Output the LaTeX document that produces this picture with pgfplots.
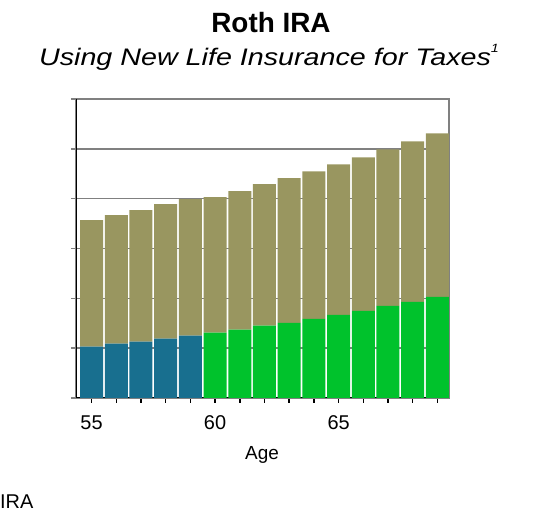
\documentclass[border=0pt]{standalone}
\usepackage{pgfplots}
\pgfplotsset{compat=1.18}
\usepackage{pgfplotstable}
\usepackage{graphicx}
\usepackage{fontspec}
\setmainfont{Liberation Sans}
\definecolor{rothblue}{RGB}{24,111,143}
\definecolor{rothgreen}{RGB}{0,194,44}
\definecolor{rotholive}{RGB}{153,150,96}
\pgfplotstableread{
age blue green olive
55 1.03 0    2.54
56 1.09 0    2.58
57 1.13 0    2.64
58 1.19 0    2.70
59 1.25 0    2.74
60 0    1.31 2.72
61 0    1.37 2.78
62 0    1.45 2.84
63 0    1.51 2.90
64 0    1.59 2.96
65 0    1.67 3.02
66 0    1.75 3.08
67 0    1.85 3.14
68 0    1.93 3.22
69 0    2.03 3.28
}\rothdata
\begin{document}
\begin{tikzpicture}
\useasboundingbox (0,0) rectangle (542bp,516bp);
\node[anchor=base, font=\bfseries\fontsize{28}{32}\selectfont] at (271bp,483bp) {Roth IRA};
\node[anchor=base, font=\itshape\fontsize{24}{28}\selectfont] at (269bp,450bp) {\scalebox{1.2}[1]{Using New Life Insurance for Taxes\raisebox{0.55em}{\fontsize{12}{12}\selectfont 1}}};
\node[anchor=base, font=\fontsize{19}{23}\selectfont] at (262bp,56bp) {Age};
\node[anchor=base west, inner sep=0pt, font=\fontsize{20}{23}\selectfont] at (0bp,8bp) {IRA};
\begin{axis}[
  at={(76bp,118bp)}, anchor=south west,
  scale only axis, width=373bp, height=299bp,
  ybar stacked, bar width=23bp,
  xmin=54.37, xmax=69.47, ymin=0, ymax=6,
  xtick={55,60,65}, xticklabels={55,60,65},
  minor xtick={56,57,58,59,61,62,63,64,66,67,68,69},
  ytick={0,1,2,3,4,5,6}, yticklabels={},
  xtick pos=lower, ytick pos=left,
  tick align=outside,
  major tick length=5bp, minor tick length=5bp,
  x tick style={black, line width=1.5bp},
  minor x tick style={black, line width=1.5bp},
  y tick style={gray, line width=1.6bp},
  ymajorgrids, major grid style={gray, line width=1.6bp},
  axis line style={gray, line width=1.6bp},
  xticklabel style={font=\fontsize{20}{23}\selectfont, anchor=base, yshift=-27bp},
  /pgf/number format/assume math mode=true,
]
\addplot[fill=rothblue, draw=none] table[x=age, y=blue] {\rothdata};
\addplot[fill=rothgreen, draw=none] table[x=age, y=green] {\rothdata};
\addplot[fill=rotholive, draw=none] table[x=age, y=olive] {\rothdata};
\draw[black, line width=2.2bp] (rel axis cs:0,1) -- (rel axis cs:0,0) -- (rel axis cs:1,0);
\end{axis}
\end{tikzpicture}
\end{document}
